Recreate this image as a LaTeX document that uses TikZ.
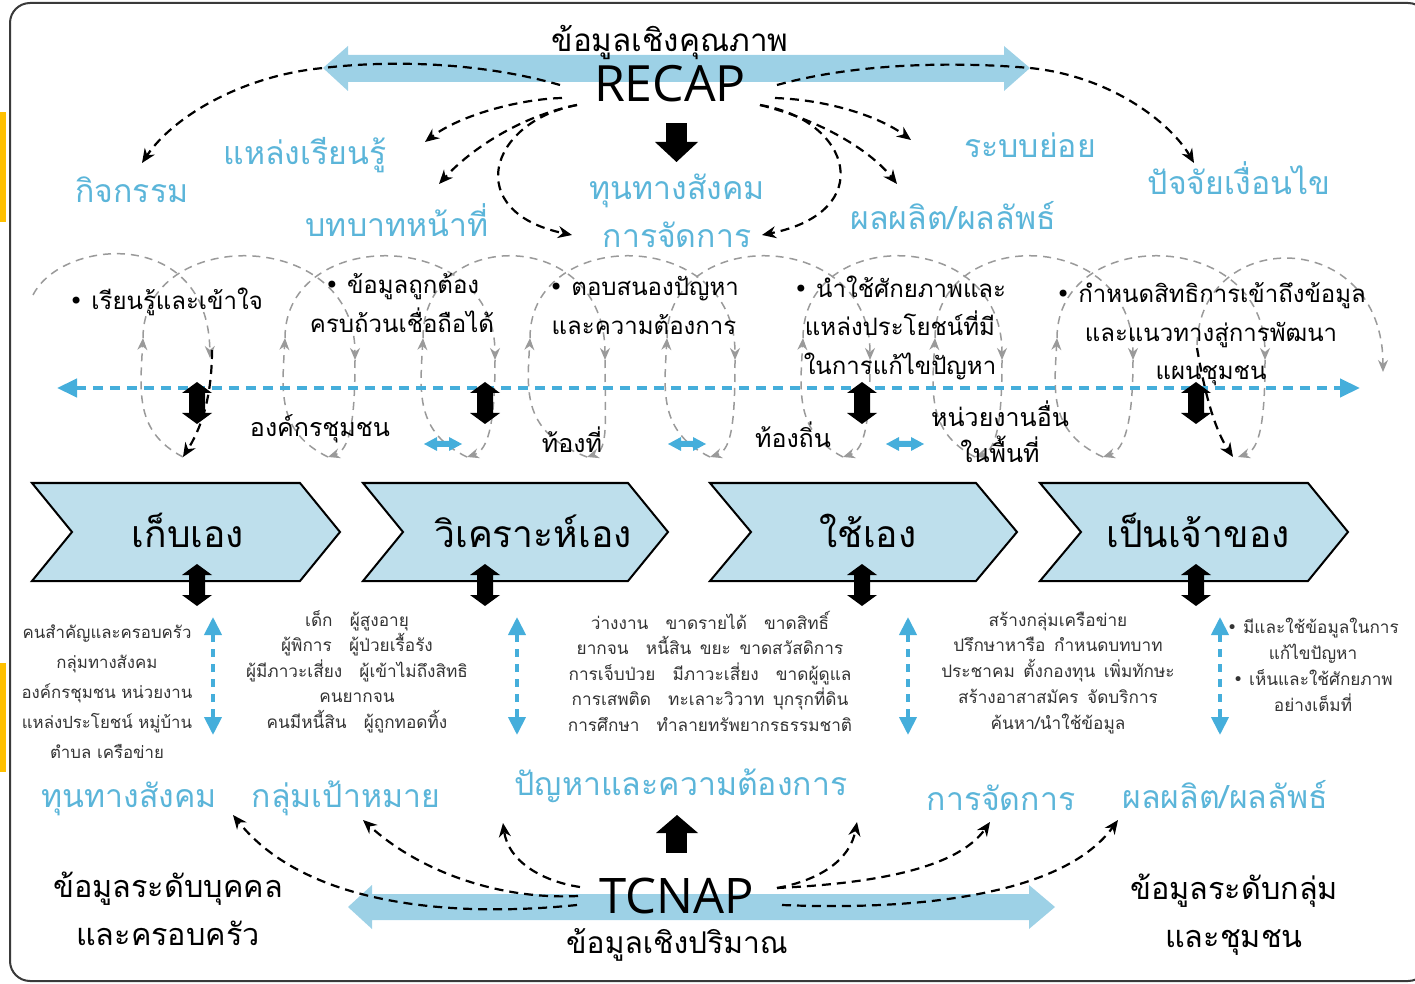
\documentclass[tikz,border=0pt]{standalone}
\usepackage{fontspec}
\setmainfont{Loma}[Script=Thai]
\newfontfamily\latinfont{Open Sans}
\newfontfamily\symfont{DejaVu Sans}
\usetikzlibrary{arrows.meta}
\definecolor{bigarrow}{HTML}{9DD1E6}
\definecolor{tblue}{HTML}{5BB5D9}
\definecolor{dblue}{HTML}{45AEDB}
\definecolor{chevfill}{HTML}{BEDFEC}
\definecolor{loopgray}{HTML}{9A9A9A}
\definecolor{txtgray}{HTML}{333333}
\definecolor{bordergray}{HTML}{3A3A3A}
\definecolor{tabor}{HTML}{FFC000}
\newcommand{\bul}{{\symfont •}\ }
\begin{document}
\begin{tikzpicture}[x=0.5pt,y=-0.5pt,
  lbl/.style={text=tblue,font=\fontsize{16}{19}\selectfont,inner sep=0pt,anchor=base},
  blk/.style={text=black,font=\fontsize{15.3}{24}\selectfont,inner sep=0pt,anchor=base,align=center},
  midtxt/.style={text=black,font=\fontsize{12}{19.5}\selectfont,inner sep=0pt,anchor=base,align=center},
  smalltxt/.style={text=txtgray,inner sep=0pt,anchor=base,align=center},
  chev/.style={fill=chevfill,draw=black,line width=1pt,line join=miter},
  chevtxt/.style={font=\fontsize{18.6}{22}\selectfont,inner sep=0pt,anchor=base},
  bdash/.style={draw=black,line width=1.1pt,dash pattern=on 4.5pt off 3pt,-{Stealth[length=7pt,width=6pt]}},
  gdash/.style={draw=loopgray,line width=0.75pt,dash pattern=on 4pt off 3pt,-{Stealth[length=6pt,width=5pt]}},
  hblue/.style={draw=dblue,line width=2.2pt,dash pattern=on 5pt off 3.5pt,{Triangle[length=10pt,width=9pt]}-{Triangle[length=10pt,width=9pt]}},
  vblue/.style={draw=dblue,line width=2pt,dash pattern=on 4pt off 3.5pt,{Triangle[length=9pt,width=8.5pt]}-{Triangle[length=9pt,width=8.5pt]}},
  pics/vdarrow/.style={code={\fill[black] (0,-21) -- (15,-10) -- (8,-10) -- (8,10) -- (15,10) -- (0,21) -- (-15,10) -- (-8,10) -- (-8,-10) -- (-15,-10) -- cycle;}},
  pics/hsmall/.style={code={\fill[dblue] (-19,0) -- (-6,-7) -- (-6,-3) -- (6,-3) -- (6,-7) -- (19,0) -- (6,7) -- (6,3) -- (-6,3) -- (-6,7) -- cycle;}}
]
\useasboundingbox (0,0) rectangle (1415,984);
% frame and side tabs
\fill[tabor] (0,112) rectangle (6,222);
\fill[tabor] (0,663) rectangle (6,772);
\draw[bordergray,line width=1pt,rounded corners=10pt] (10,3) rectangle (1428,981);

% big double arrows
\fill[bigarrow] (323,68) -- (348,46) -- (348,55) -- (1004,55) -- (1004,46) -- (1030,68) -- (1004,91) -- (1004,82) -- (348,82) -- (348,91) -- cycle;
\fill[bigarrow] (348,907) -- (372,885) -- (372,894) -- (1029,894) -- (1029,885) -- (1055,907) -- (1029,929) -- (1029,920) -- (372,920) -- (372,929) -- cycle;

% top texts
\node[blk,font=\fontsize{15.7}{24}\selectfont] (qual) at (670,52) {ข้อมูลเชิงคุณภาพ};
\node[inner sep=0pt,anchor=base,font=\latinfont\fontsize{25}{28}\selectfont] (recap) at (670,102) {RECAP};
\fill[black] (666,123) rectangle (687,143);
\fill[black] (655,142) -- (698,142) -- (676.5,162) -- cycle;

\node[lbl] (kij) at (132,203) {กิจกรรม};
\node[lbl] (lrn) at (305,165) {แหล่งเรียนรู้};
\node[lbl] (role) at (397,237) {บทบาทหน้าที่};
\node[lbl] (soc1) at (677,200) {ทุนทางสังคม};
\node[lbl] (mgt1) at (677,248) {การจัดการ};
\node[lbl] (subs) at (1030,158) {ระบบย่อย};
\node[lbl] (out1) at (953,230) {ผลผลิต/ผลลัพธ์};
\node[lbl] (cond) at (1239,195) {ปัจจัยเงื่อนไข};

% top dashed connectors
\coordinate (t1) at (560,85); \coordinate (t1m) at (323,68); \coordinate (t1e) at (142,163);
\coordinate (t2) at (562,98); \coordinate (t2e) at (425,142);
\coordinate (t3) at (577,105); \coordinate (t3e) at (439,184);
\coordinate (t4e) at (572,235);
\coordinate (t5) at (777,85); \coordinate (t5m) at (1030,68); \coordinate (t5e) at (1194,163);
\coordinate (t6) at (775,98); \coordinate (t6e) at (911,140);
\coordinate (t7) at (760,105); \coordinate (t7e) at (897,184);
\coordinate (t8e) at (762,235);
\draw[bdash] (t1) .. controls (480,62) and (390,60) .. (t1m) .. controls (240,76) and (172,118) .. (t1e);
\draw[bdash] (t2) .. controls (520,99) and (460,115) .. (t2e);
\draw[bdash] (t3) .. controls (520,116) and (470,150) .. (t3e);
\draw[bdash] (t3) .. controls (488,122) and (462,212) .. (t4e);
\draw[bdash] (t5) .. controls (860,62) and (960,62) .. (t5m) .. controls (1110,76) and (1170,122) .. (t5e);
\draw[bdash] (t6) .. controls (830,100) and (880,117) .. (t6e);
\draw[bdash] (t7) .. controls (820,120) and (870,150) .. (t7e);
\draw[bdash] (t7) .. controls (852,120) and (878,212) .. (t8e);

% gray loop chain
\draw[gdash] (33,295) .. controls (62,238) and (208,226) .. (210,358);
\foreach \u/\d in {143/355, 285/495, 423/605, 530/735, 667/870, 803/1002, 935/1133, 1057/1265}
  \draw[gdash] (\u,338) .. controls (\u,226) and (\d,226) .. (\d,360);
\draw[gdash] (1197,345) .. controls (1200,226) and (1383,226) .. (1383,372);
\foreach \d/\b in {355/328, 495/467, 605/587, 735/710, 870/843, 1002/975, 1133/1103, 1265/1238}
  \draw[gdash] (\d,360) .. controls (\d,420) and (\b+22,450) .. (\b,457);
\foreach \b/\u in {183/143, 328/285, 467/423, 587/530, 710/667, 843/803, 975/935, 1103/1057}
  \draw[gdash] (\b,457) .. controls (\u-8,432) and (\u-3,392) .. (\u,338);
\draw[bdash] (212,350) .. controls (212,400) and (200,430) .. (183,457);
\draw[bdash] (1197,348) .. controls (1205,395) and (1215,430) .. (1233,457);

% blue dashed horizontal
\coordinate (hl) at (57,388); \coordinate (hr) at (1360,388);
\draw[hblue] (hl) -- (hr);

% mid black double arrows
\foreach \x in {197,485,862,1196} \pic at (\x,403) {vdarrow};
% small blue double arrows
\foreach \x in {443,687,905} \pic at (\x,444) {hsmall};

% mid bullet texts (anchor base = last line baseline)
\node[midtxt] (m1) at (166,310) {\bul เรียนรู้และเข้าใจ};
\node[midtxt] (m2) at (402,333) {\bul ข้อมูลถูกต้อง\\ครบถ้วนเชื่อถือได้};
\node[midtxt] (m3) at (644,335) {\bul ตอบสนองปัญหา\\และความต้องการ};
\node[midtxt] (m4) at (900,375) {\bul นำใช้ศักยภาพและ\\แหล่งประโยชน์ที่มี\\ในการแก้ไขปัญหา};
\node[midtxt] (m5) at (1211,380) {\bul กำหนดสิทธิการเข้าถึงข้อมูล\\และแนวทางสู่การพัฒนา\\แผนชุมชน};
\node[midtxt,font=\fontsize{12.5}{19}\selectfont] (o1) at (320,437) {องค์กรชุมชน};
\node[midtxt,font=\fontsize{12.5}{19}\selectfont] (o2) at (572,452) {ท้องที่};
\node[midtxt,font=\fontsize{12.5}{19}\selectfont] (o3) at (793,448) {ท้องถิ่น};
\node[midtxt,font=\fontsize{12.5}{18}\selectfont] (o4) at (1000,463) {หน่วยงานอื่น\\ในพื้นที่};

% chevrons
\draw[chev] (32,483) -- (300,483) -- (340,532) -- (300,581) -- (32,581) -- (72,532) -- cycle;
\draw[chev] (363,483) -- (628,483) -- (668,532) -- (628,581) -- (363,581) -- (403,532) -- cycle;
\draw[chev] (710,483) -- (976,483) -- (1017,532) -- (976,581) -- (710,581) -- (751,532) -- cycle;
\draw[chev] (1040,483) -- (1308,483) -- (1348,532) -- (1308,581) -- (1040,581) -- (1081,532) -- cycle;
\node[chevtxt] (c1) at (188,547) {เก็บเอง};
\node[chevtxt] (c2) at (533,547) {วิเคราะห์เอง};
\node[chevtxt] (c3) at (868,547) {ใช้เอง};
\node[chevtxt] (c4) at (1198,547) {เป็นเจ้าของ};
\foreach \x in {197,485,862,1196} \pic at (\x,585) {vdarrow};

% vertical blue dashed arrows
\foreach \x in {213,517,908,1220} \draw[vblue] (\x,617) -- (\x,735);

% bottom text blocks (anchor base = last line baseline)
\node[smalltxt,font=\fontsize{8.4}{15}\selectfont] (b1) at (107,758) {คนสำคัญและครอบครัว\\กลุ่มทางสังคม\\องค์กรชุมชน หน่วยงาน\\แหล่งประโยชน์ หมู่บ้าน\\ตำบล เครือข่าย};
\node[smalltxt,font=\fontsize{8.6}{12.75}\selectfont] (b2) at (357,728) {เด็ก\quad ผู้สูงอายุ\\ผู้พิการ\quad ผู้ป่วยเรื้อรัง\\ผู้มีภาวะเสี่ยง\quad ผู้เข้าไม่ถึงสิทธิ\\คนยากจน\\คนมีหนี้สิน\quad ผู้ถูกทอดทิ้ง};
\node[smalltxt,font=\fontsize{8.6}{12.75}\selectfont] (b3) at (710,731) {ว่างงาน\quad ขาดรายได้\quad ขาดสิทธิ์\\ยากจน\quad หนี้สิน\enspace ขยะ\enspace ขาดสวัสดิการ\\การเจ็บป่วย\quad มีภาวะเสี่ยง\quad ขาดผู้ดูแล\\การเสพติด\quad ทะเลาะวิวาท\enspace บุกรุกที่ดิน\\การศึกษา\quad ทำลายทรัพยากรธรรมชาติ};
\node[smalltxt,font=\fontsize{8.6}{12.85}\selectfont] (b4) at (1058,729) {สร้างกลุ่มเครือข่าย\\ปรึกษาหารือ\enspace กำหนดบทบาท\\ประชาคม\enspace ตั้งกองทุน\enspace เพิ่มทักษะ\\สร้างอาสาสมัคร\enspace จัดบริการ\\ค้นหา/นำใช้ข้อมูล};
\node[smalltxt,font=\fontsize{8.6}{12.85}\selectfont] (b5) at (1313,711) {\bul มีและใช้ข้อมูลในการ\\แก้ไขปัญหา\\\bul เห็นและใช้ศักยภาพ\\อย่างเต็มที่};

% bottom labels
\node[lbl] (soc2) at (129,807) {ทุนทางสังคม};
\node[lbl] (tgt) at (346,807) {กลุ่มเป้าหมาย};
\node[lbl] (need) at (681,795) {ปัญหาและความต้องการ};
\node[lbl] (mgt2) at (1001,810) {การจัดการ};
\node[lbl] (out2) at (1225,808) {ผลผลิต/ผลลัพธ์};

\fill[black] (677,815) -- (698,833) -- (656,833) -- cycle;
\fill[black] (666,832) rectangle (687,853);
\node[inner sep=0pt,anchor=base,font=\latinfont\fontsize{24.5}{28}\selectfont] (tcnap) at (677,913) {TCNAP};
\node[blk,font=\fontsize{15}{24}\selectfont] (quan) at (677,953) {ข้อมูลเชิงปริมาณ};
\node[blk] (ind) at (168,945) {ข้อมูลระดับบุคคล\\และครอบครัว};
\node[blk] (grp) at (1234,947) {ข้อมูลระดับกลุ่ม\\และชุมชน};

% bottom dashed connectors
\coordinate (d1) at (577,905); \coordinate (d1e) at (233,815);
\coordinate (d2) at (578,896); \coordinate (d2e) at (363,820);
\coordinate (d3) at (580,887); \coordinate (d3e) at (503,823);
\coordinate (d4) at (777,888); \coordinate (d4e) at (857,822);
\coordinate (d5e) at (990,822);
\coordinate (d6) at (782,905); \coordinate (d6e) at (1118,820);
\draw[bdash] (d1) .. controls (450,918) and (305,905) .. (d1e);
\draw[bdash] (d2) .. controls (500,900) and (420,872) .. (d2e);
\draw[bdash] (d3) .. controls (540,881) and (508,860) .. (d3e);
\draw[bdash] (d4) .. controls (820,880) and (850,860) .. (d4e);
\draw[bdash] (d4) .. controls (860,884) and (955,872) .. (d5e);
\draw[bdash] (d6) .. controls (900,910) and (1060,900) .. (d6e);
\end{tikzpicture}
\end{document}
